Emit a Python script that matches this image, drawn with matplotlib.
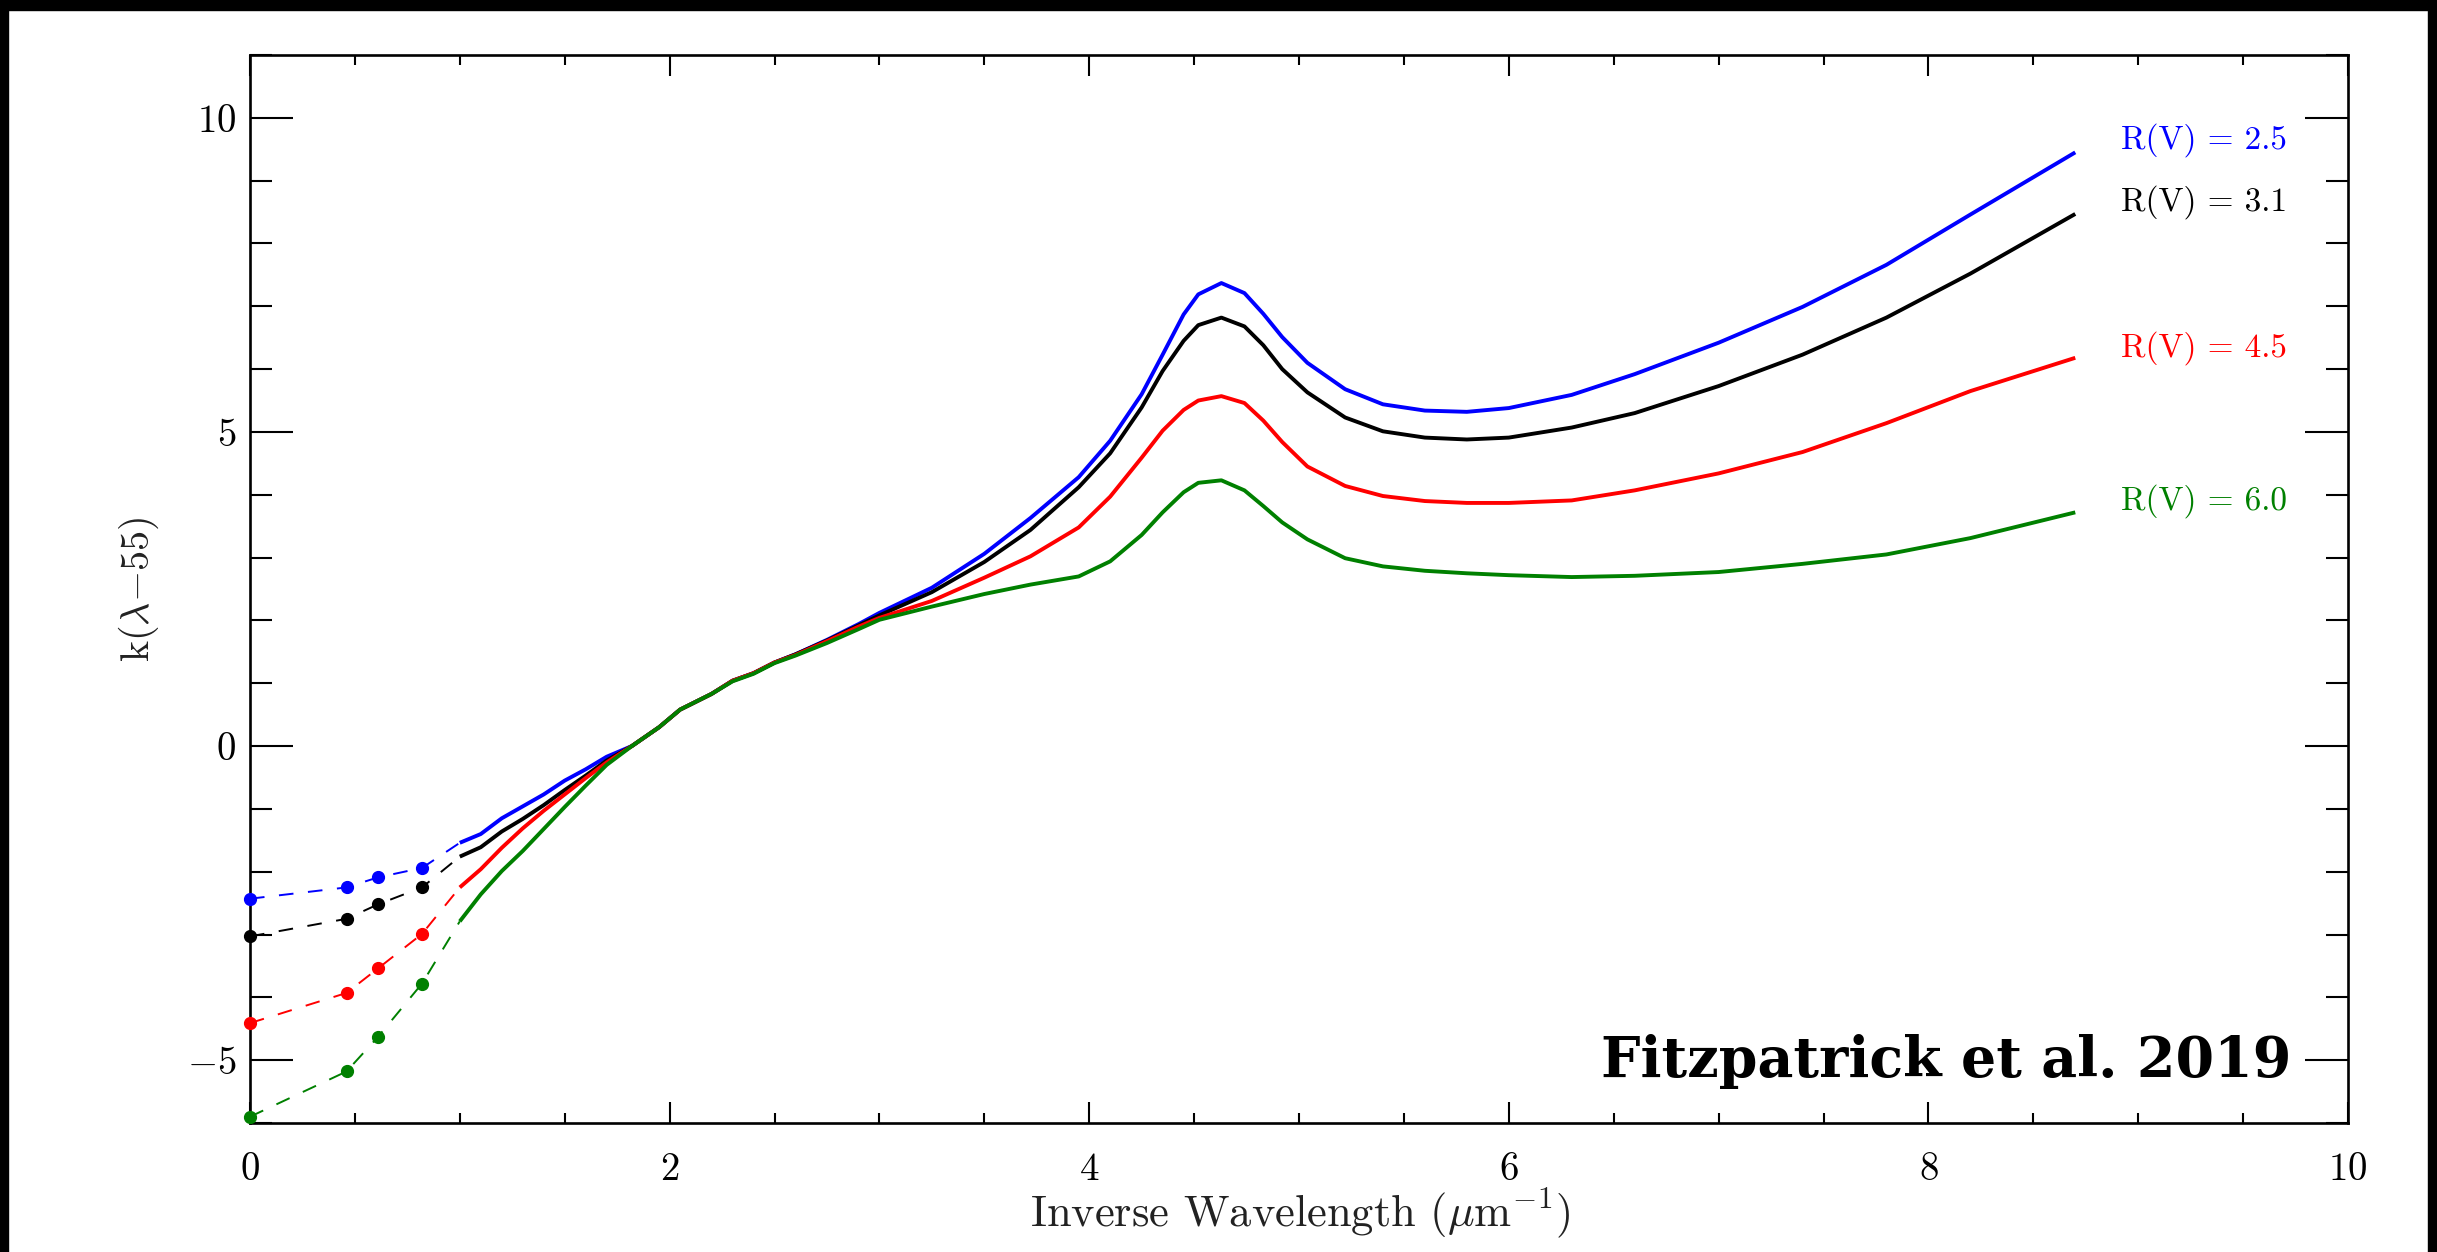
import matplotlib.pyplot as plt
from matplotlib.patches import Rectangle
from matplotlib.ticker import MultipleLocator

# ------------------------------------------------------------
# data
# ------------------------------------------------------------
# near-IR photometric points (K, H, J) plus the V-band anchor at 0
NIR_X = [0.0, 0.46, 0.61, 0.82]
NIR_RV25 = [-2.43, -2.25, -2.09, -1.94]
NIR_RV31 = [-3.03, -2.75, -2.52, -2.25]
NIR_RV45 = [-4.41, -3.93, -3.54, -2.99]
NIR_RV60 = [-5.90, -5.18, -4.63, -3.78]

# optical / UV spectroscopic curves
UV_X = [1.0, 1.1, 1.2, 1.3, 1.4, 1.5, 1.6, 1.7, 1.82, 1.95, 2.05, 2.2, 2.3,
        2.4, 2.5, 2.6, 2.75, 2.9, 3.0, 3.25, 3.5, 3.72, 3.95, 4.1, 4.25,
        4.35, 4.45, 4.52, 4.63, 4.74, 4.83, 4.92, 5.04, 5.22, 5.4, 5.6, 5.8,
        6.0, 6.3, 6.6, 7.0, 7.4, 7.8, 8.2, 8.7]
UV_RV25 = [-1.54, -1.40, -1.15, -0.96, -0.77, -0.55, -0.37, -0.17, 0.0, 0.30,
           0.58, 0.83, 1.04, 1.16, 1.33, 1.46, 1.69, 1.94,
           2.12, 2.52, 3.06, 3.63, 4.28, 4.86, 5.60, 6.23, 6.87, 7.19, 7.37,
           7.21, 6.88, 6.51, 6.10, 5.68, 5.44,
           5.34, 5.32, 5.38, 5.59, 5.92, 6.42, 6.99, 7.66, 8.46, 9.45]
UV_RV31 = [-1.76, -1.61, -1.36, -1.16, -0.94, -0.70, -0.47, -0.23, 0.0, 0.30,
           0.58, 0.83, 1.04, 1.16, 1.33, 1.46, 1.68, 1.92,
           2.08, 2.45, 2.93, 3.44, 4.12, 4.66, 5.39, 5.97, 6.45, 6.70, 6.82,
           6.68, 6.38, 6.00, 5.63, 5.23, 5.01,
           4.91, 4.88, 4.91, 5.07, 5.30, 5.73, 6.23, 6.82, 7.52, 8.47]
UV_RV45 = [-2.25, -1.96, -1.62, -1.31, -1.03, -0.77, -0.51, -0.26, 0.0, 0.30,
           0.58, 0.83, 1.04, 1.16, 1.33, 1.45, 1.67, 1.90,
           2.04, 2.31, 2.68, 3.02, 3.48, 3.97, 4.59, 5.02, 5.35, 5.50, 5.57,
           5.46, 5.18, 4.84, 4.45, 4.14, 3.98,
           3.90, 3.87, 3.87, 3.91, 4.07, 4.34, 4.68, 5.14, 5.65, 6.18]
UV_RV60 = [-2.79, -2.36, -1.99, -1.67, -1.32, -0.97, -0.63, -0.30, 0.0, 0.30,
           0.58, 0.83, 1.03, 1.15, 1.32, 1.44, 1.64, 1.86,
           2.01, 2.22, 2.42, 2.57, 2.70, 2.94, 3.36, 3.72, 4.04, 4.19, 4.23,
           4.07, 3.82, 3.56, 3.29, 2.99, 2.86,
           2.79, 2.75, 2.72, 2.69, 2.71, 2.77, 2.90, 3.05, 3.31, 3.72]

LABELS = ['R(V) = 2.5', 'R(V) = 3.1', 'R(V) = 4.5', 'R(V) = 6.0']
LABEL_Y = [9.64, 8.66, 6.34, 3.90]
COLORS = ['#0000ff', '#000000', '#ff0000', '#008000']

XTICKS = [0, 2, 4, 6, 8, 10]
XTICK_LABELS = ['0', '2', '4', '6', '8', '10']
YTICKS = [-5, 0, 5, 10]
YTICK_LABELS = ['-5', '0', '5', '10']

# ------------------------------------------------------------
# style
# ------------------------------------------------------------
plt.rcParams['mathtext.fontset'] = 'cm'
plt.rcParams['font.family'] = 'cmr10'
plt.rcParams['axes.formatter.use_mathtext'] = True

W, H = 2437, 1252
fig = plt.figure(figsize=(W / 100, H / 100), dpi=100)
ax = fig.add_axes([250 / W, 1 - 1123 / H, (2348 - 250) / W, (1123 - 55) / H])

nir = [NIR_RV25, NIR_RV31, NIR_RV45, NIR_RV60]
uv = [UV_RV25, UV_RV31, UV_RV45, UV_RV60]

for pts, curve, col in zip(nir, uv, COLORS):
    # dashed bridge from the photometric points to the spectrum
    ax.plot(NIR_X + [UV_X[0]], pts + [curve[0]], color=col, lw=1.4,
            dashes=(7.5, 7.5), zorder=2)
    ax.plot(NIR_X, pts, 'o', color=col, ms=8.5, zorder=4, clip_on=False)
    ax.plot(UV_X, curve, color=col, lw=2.8, zorder=3,
            solid_capstyle='butt', solid_joinstyle='round')

for lab, y, col in zip(LABELS, LABEL_Y, COLORS):
    ax.text(8.92, y, lab, color=col, fontsize=24, ha='left', va='center')

ax.text(9.73, -5.27, 'Fitzpatrick et al. 2019', ha='right', va='baseline',
        fontsize=40, fontweight='bold',
        family=['DejaVu Serif Condensed', 'DejaVu Serif'])

ax.set_xlim(0, 10)
ax.set_ylim(-6, 11)
ax.set_xticks(XTICKS)
ax.set_xticklabels(['$%s$' % t for t in XTICK_LABELS])
ax.set_yticks(YTICKS)
ax.set_yticklabels(['$%s$' % t for t in YTICK_LABELS])
ax.xaxis.set_minor_locator(MultipleLocator(0.5))
ax.yaxis.set_minor_locator(MultipleLocator(1))

ax.tick_params(axis='x', which='both', direction='in', top=True, bottom=True,
               width=1.5, labelsize=28, pad=21, colors='black')
ax.tick_params(axis='x', which='major', length=15)
ax.tick_params(axis='x', which='minor', length=7.5)
ax.tick_params(axis='y', which='both', direction='in', left=True, right=True,
               width=1.5, labelsize=28, pad=10)
ax.tick_params(axis='y', which='major', length=31)
ax.tick_params(axis='y', which='minor', length=15.5)
for sp in ax.spines.values():
    sp.set_linewidth(1.9)

fig.text(1300 / W, 1 - 1226 / H, r'Inverse Wavelength ($\mu$m$^{-1}$)',
         ha='center', va='baseline', fontsize=32, color='#222222')
fig.text(139 / W, 1 - 589 / H, r'k$(\lambda{-}55)$', rotation=90,
         ha='center', va='center', fontsize=29, color='#222222')

# black frame around the screenshot
for x0, y0, w, h in [(0, 1 - 10 / H, 1, 10 / H), (0, 0, 8 / W, 1),
                     (2428 / W, 0, 9 / W, 1)]:
    fig.patches.append(Rectangle((x0, y0), w, h, transform=fig.transFigure,
                                 color='black', zorder=10))

fig.savefig('out.png', dpi=100, facecolor='white')
